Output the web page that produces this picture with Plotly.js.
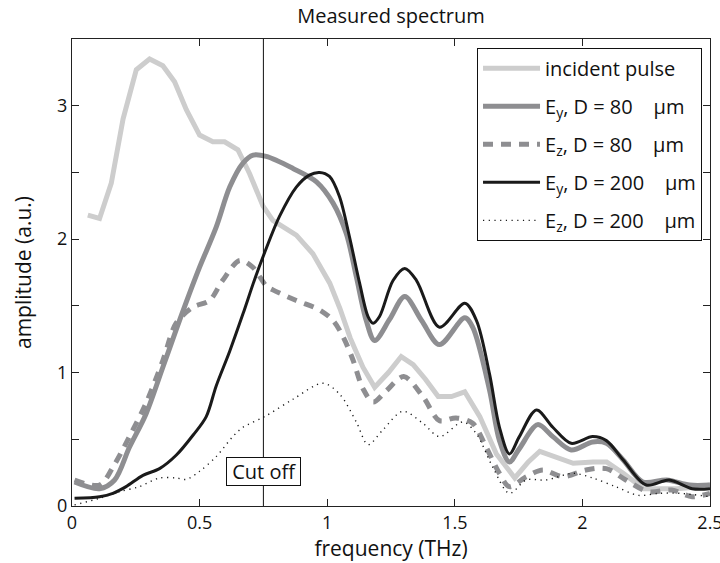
<!DOCTYPE html>
<html>
<head>
<meta charset="utf-8">
<script src="https://cdn.plot.ly/plotly-3.0.1.min.js"></script>
<style>html,body{margin:0;padding:0;background:#fff;}#chart{width:720px;height:563px;}</style>
</head>
<body>
<div id="chart"></div>
<script>
// ---- Data ----
const chartTitle = "Measured spectrum";
const xTitle = "frequency (THz)";
const yTitle = "amplitude (a.u.)";
const cutoffFreq = 0.75;
const cutoffLabel = "\u00a0Cut off\u00a0";
const cutoffLabelAmp = 0.26;

const xTickVals = [0, 0.5, 1, 1.5, 2, 2.5];
const xTickText = ["0", "0.5", "1", "1.5", "2", "2.5"];
const yTickVals = [0, 0.5, 1, 1.5, 2, 2.5, 3, 3.5];
const yTickText = ["0", "", "1", "", "2", "", "3", ""];

const seriesNames = [
  "incident pulse",
  "E<sub>y</sub>, D = 80\u00a0\u00a0\u00a0 \u03bcm",
  "E<sub>z</sub>, D = 80\u00a0\u00a0\u00a0 \u03bcm",
  "E<sub>y</sub>, D = 200\u00a0\u00a0\u00a0 \u03bcm",
  "E<sub>z</sub>, D = 200\u00a0\u00a0\u00a0 \u03bcm"
];

const freqIncident = [0.062, 0.108, 0.154, 0.2, 0.252, 0.304, 0.356, 0.402, 0.448, 0.5, 0.552, 0.598, 0.65, 0.696, 0.748, 0.787, 0.879, 0.944, 1.01, 1.05, 1.09, 1.14, 1.186, 1.24, 1.29, 1.337, 1.385, 1.435, 1.487, 1.539, 1.598, 1.663, 1.735, 1.788, 1.833, 1.899, 1.964, 2.042, 2.095, 2.16, 2.24, 2.30, 2.37, 2.44, 2.5];
const ampIncident  = [2.18, 2.155, 2.42, 2.90, 3.27, 3.35, 3.30, 3.18, 2.97, 2.78, 2.73, 2.73, 2.67, 2.49, 2.25, 2.14, 2.03, 1.89, 1.67, 1.48, 1.26, 1.04, 0.89, 1.00, 1.12, 1.06, 0.95, 0.82, 0.82, 0.856, 0.67, 0.39, 0.21, 0.33, 0.41, 0.36, 0.32, 0.33, 0.33, 0.245, 0.13, 0.13, 0.13, 0.14, 0.157];

const freqEy80 = [0.01, 0.108, 0.167, 0.225, 0.29, 0.356, 0.408, 0.448, 0.5, 0.565, 0.618, 0.67, 0.71, 0.761, 0.866, 0.958, 1.023, 1.075, 1.114, 1.153, 1.186, 1.245, 1.304, 1.37, 1.44, 1.539, 1.57, 1.636, 1.675, 1.714, 1.753, 1.825, 1.884, 1.956, 2.04, 2.094, 2.16, 2.237, 2.33, 2.42, 2.5];
const ampEy80  = [0.18, 0.13, 0.195, 0.44, 0.69, 1.04, 1.32, 1.53, 1.79, 2.09, 2.39, 2.57, 2.63, 2.62, 2.53, 2.43, 2.27, 2.04, 1.72, 1.39, 1.24, 1.40, 1.57, 1.39, 1.21, 1.41, 1.34, 0.87, 0.49, 0.33, 0.43, 0.61, 0.52, 0.42, 0.48, 0.47, 0.345, 0.18, 0.195, 0.157, 0.157];

const freqEz80 = [0.01, 0.108, 0.16, 0.225, 0.29, 0.356, 0.408, 0.474, 0.539, 0.59, 0.657, 0.708, 0.761, 0.787, 0.879, 0.97, 1.023, 1.062, 1.1, 1.14, 1.18, 1.23, 1.30, 1.375, 1.44, 1.505, 1.57, 1.623, 1.675, 1.714, 1.78, 1.845, 1.923, 2.014, 2.094, 2.17, 2.26, 2.35, 2.43, 2.5];
const ampEz80  = [0.195, 0.157, 0.29, 0.52, 0.77, 1.09, 1.37, 1.49, 1.54, 1.69, 1.84, 1.79, 1.65, 1.62, 1.54, 1.47, 1.39, 1.27, 1.10, 0.88, 0.78, 0.86, 0.97, 0.82, 0.64, 0.66, 0.62, 0.44, 0.245, 0.145, 0.22, 0.27, 0.22, 0.27, 0.28, 0.195, 0.107, 0.12, 0.07, 0.095];

const freqEy200 = [0.01, 0.108, 0.16, 0.212, 0.278, 0.343, 0.408, 0.474, 0.526, 0.565, 0.618, 0.67, 0.716, 0.755, 0.813, 0.879, 0.93, 0.97, 1.009, 1.048, 1.087, 1.127, 1.16, 1.18, 1.205, 1.258, 1.304, 1.35, 1.44, 1.539, 1.585, 1.636, 1.675, 1.714, 1.753, 1.82, 1.884, 1.956, 2.04, 2.094, 2.16, 2.25, 2.34, 2.43, 2.5];
const ampEy200  = [0.058, 0.07, 0.095, 0.145, 0.23, 0.28, 0.38, 0.53, 0.67, 0.90, 1.16, 1.44, 1.70, 1.90, 2.17, 2.39, 2.48, 2.50, 2.47, 2.32, 2.02, 1.67, 1.42, 1.37, 1.42, 1.69, 1.78, 1.69, 1.34, 1.52, 1.39, 0.99, 0.59, 0.39, 0.52, 0.72, 0.59, 0.47, 0.52, 0.49, 0.345, 0.157, 0.195, 0.13, 0.13];

const freqEz200 = [0.01, 0.108, 0.186, 0.264, 0.343, 0.408, 0.448, 0.5, 0.565, 0.63, 0.67, 0.755, 0.866, 0.983, 1.048, 1.114, 1.16, 1.218, 1.296, 1.375, 1.44, 1.532, 1.585, 1.649, 1.714, 1.78, 1.858, 1.963, 2.04, 2.13, 2.22, 2.30, 2.38, 2.5];
const ampEz200  = [0.008, 0.058, 0.107, 0.145, 0.21, 0.21, 0.20, 0.26, 0.37, 0.52, 0.59, 0.67, 0.80, 0.92, 0.84, 0.63, 0.46, 0.57, 0.71, 0.62, 0.52, 0.63, 0.54, 0.29, 0.095, 0.195, 0.195, 0.245, 0.21, 0.145, 0.08, 0.095, 0.095, 0.07];

// ---- Chart ----
const FONT = "Open Sans, Liberation Sans, sans-serif";
const lightGray = "#cdcdcd";
const midGray = "#8e8e91";
const dark = "#1a1a1a";

const traces = [
  {x: freqIncident, y: ampIncident, name: seriesNames[0], legendgroup: "g1",
   mode: "lines", line: {color: lightGray, width: 5, shape: "linear"}},
  {x: freqEy80, y: ampEy80, name: seriesNames[1], legendgroup: "g2",
   mode: "lines", line: {color: midGray, width: 5, shape: "spline", smoothing: 0.9}},
  {x: freqEz80, y: ampEz80, name: seriesNames[2], legendgroup: "g3",
   mode: "lines", line: {color: midGray, width: 5, dash: "10px,8px", shape: "spline", smoothing: 0.9}},
  {x: freqEy200, y: ampEy200, name: seriesNames[3], legendgroup: "g4",
   mode: "lines", line: {color: dark, width: 3, shape: "spline", smoothing: 0.9}},
  {x: freqEz200, y: ampEz200, name: seriesNames[4], legendgroup: "g5",
   mode: "lines", line: {color: dark, width: 1.4, dash: "1.2px,4.5px", shape: "spline", smoothing: 0.9}}
];

const axisCommon = {
  showgrid: false, zeroline: false, showline: true, linecolor: "#222", linewidth: 1,
  mirror: "allticks", ticks: "inside", ticklen: 7, tickcolor: "#222", tickwidth: 1,
  tickfont: {family: FONT, size: 18, color: "#111"}, automargin: false
};

const layout = {
  width: 720, height: 563,
  paper_bgcolor: "#fff", plot_bgcolor: "#fff",
  margin: {l: 72, r: 10, t: 39, b: 57},
  font: {family: FONT, color: "#111"},
  title: {text: chartTitle, font: {family: FONT, size: 20, color: "#111"},
          x: 0.5, xref: "paper", y: 0.972, yanchor: "middle"},
  xaxis: Object.assign({}, axisCommon, {
    range: [0, 2.5], tickmode: "array", tickvals: xTickVals, ticktext: xTickText,
    ticklabeloverflow: "allow",
    title: {text: xTitle, font: {family: FONT, size: 21, color: "#111"}, standoff: 0}
  }),
  yaxis: Object.assign({}, axisCommon, {
    range: [0, 3.5], tickmode: "array", tickvals: yTickVals, ticktext: yTickText,
    title: {text: yTitle, font: {family: FONT, size: 21, color: "#111"}, standoff: 19}
  }),
  showlegend: true,
  legend: {
    x: 0.9875, xanchor: "right", y: 0.981, yanchor: "top",
    bgcolor: "#fff", bordercolor: "#111", borderwidth: 1,
    font: {family: FONT, size: 20, color: "#111"},
    tracegroupgap: 9, itemwidth: 57, traceorder: "grouped"
  },
  shapes: [{
    type: "line", xref: "x", yref: "paper", x0: cutoffFreq, x1: cutoffFreq, y0: 0, y1: 1,
    line: {color: "#111", width: 1}
  }],
  annotations: [{
    x: cutoffFreq, y: cutoffLabelAmp, xref: "x", yref: "y", text: cutoffLabel,
    showarrow: false, font: {family: FONT, size: 20, color: "#111"},
    bgcolor: "#fff", bordercolor: "#111", borderwidth: 1, borderpad: 0
  }]
};

Plotly.newPlot("chart", traces, layout, {displayModeBar: false, staticPlot: true});
</script>
</body>
</html>
